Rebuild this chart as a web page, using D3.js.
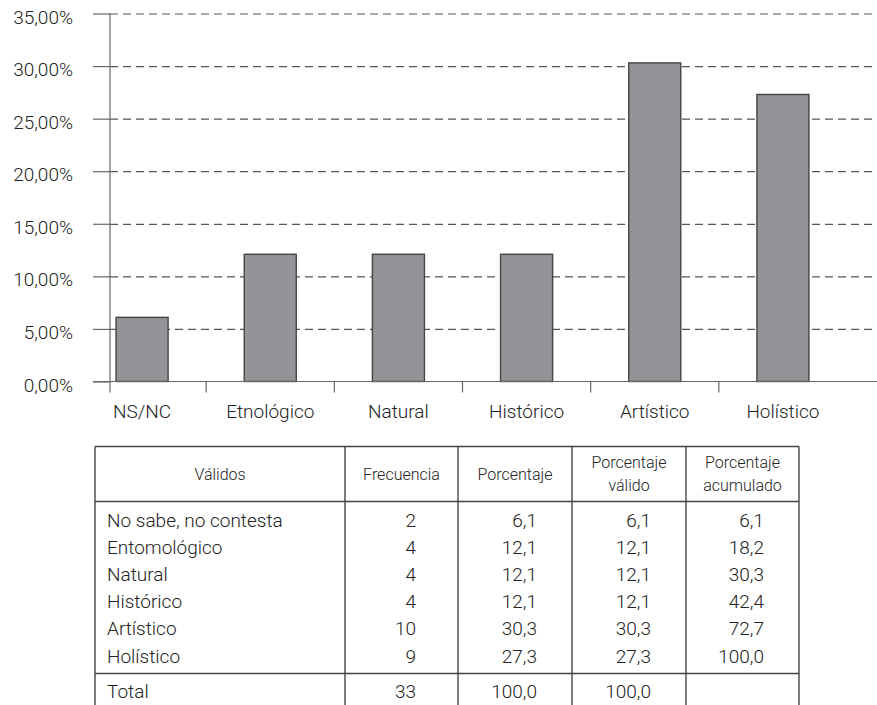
<!DOCTYPE html>
<html>
<head>
<meta charset="utf-8">
<script src="https://cdn.jsdelivr.net/npm/d3@7"></script>
<style>
  html, body { margin: 0; padding: 0; background: #fff; }
  svg { display: block; }
  text { font-family: Roboto, "Liberation Sans", Arial, sans-serif; font-weight: 300; fill: #222; }
</style>
</head>
<body>
<svg id="chart" width="877" height="705"></svg>
<script>
// ---- Data ----
const categories = ["NS/NC", "Etnológico", "Natural", "Histórico", "Artístico", "Holístico"];
const percentages = [6.1, 12.1, 12.1, 12.1, 30.3, 27.3];
const yTicks = [0, 5, 10, 15, 20, 25, 30, 35];

const tableHeaders = [["Válidos"], ["Frecuencia"], ["Porcentaje"], ["Porcentaje", "válido"], ["Porcentaje", "acumulado"]];
const rowLabels = ["No sabe, no contesta", "Entomológico", "Natural", "Histórico", "Artístico", "Holístico"];
const frecuencia = [2, 4, 4, 4, 10, 9];
const porcentaje = [6.1, 12.1, 12.1, 12.1, 30.3, 27.3];
const porcentajeValido = [6.1, 12.1, 12.1, 12.1, 30.3, 27.3];
const porcentajeAcumulado = [6.1, 18.2, 30.3, 42.4, 72.7, 100.0];
const totalLabel = "Total";
const totalFrecuencia = 33;
const totalPorcentaje = 100.0;
const totalPorcentajeValido = 100.0;

// ---- Setup ----
const es = d3.formatLocale({ decimal: ",", thousands: ".", grouping: [3], currency: ["", " €"] });
const fmtPct = v => es.format(".2f")(v) + "%";
const fmt1 = es.format(".1f");

const svg = d3.select("#chart");
const W = 877;
const axisX = 110;
const FS = 19;

const y = d3.scaleLinear().domain([0, 35]).range([381.5, 13.5]);
const x = d3.scaleBand().domain(categories).range([78, 847]).paddingInner(0).paddingOuter(0);

// Gridlines (dashed)
const grid = svg.append("g").attr("transform", `translate(${axisX},0)`)
  .call(d3.axisLeft(y).tickValues(yTicks.filter(d => d > 0)).tickSize(-(W - axisX)).tickFormat(""));
grid.select(".domain").remove();
grid.selectAll(".tick line").attr("stroke", "#555").attr("stroke-width", 1.2).attr("stroke-dasharray", "8,5");

// Bars
svg.append("g").selectAll("rect").data(categories).join("rect")
  .attr("x", d => x(d) + x.bandwidth() * 0.297)
  .attr("width", x.bandwidth() * 0.406)
  .attr("y", (d, i) => y(percentages[i]))
  .attr("height", (d, i) => y(0) - y(percentages[i]))
  .attr("fill", "#939498")
  .attr("stroke", "#444")
  .attr("stroke-width", 1.4);

// Y axis
const yAxis = svg.append("g").attr("transform", `translate(${axisX},0)`)
  .call(d3.axisLeft(y).tickValues(yTicks).tickSize(17).tickPadding(20).tickFormat(fmtPct));
yAxis.select(".domain").remove();
yAxis.selectAll(".tick line").attr("stroke", "#666").attr("stroke-width", 1.2);
yAxis.selectAll(".tick text").attr("font-size", FS).attr("dy", "0.5em")
  .style("font-family", "Roboto, 'Liberation Sans', Arial, sans-serif").style("font-weight", 300).attr("fill", "#222");
svg.append("line").attr("x1", axisX).attr("x2", axisX)
  .attr("y1", y(35)).attr("y2", y(0) + 11)
  .attr("stroke", "#666").attr("stroke-width", 1.2);

// X axis
svg.append("line").attr("x1", axisX - 17).attr("x2", W)
  .attr("y1", y(0)).attr("y2", y(0)).attr("stroke", "#666").attr("stroke-width", 1.2);
svg.append("g").selectAll("line").data(categories.slice(1)).join("line")
  .attr("x1", d => x(d)).attr("x2", d => x(d))
  .attr("y1", y(0)).attr("y2", y(0) + 11)
  .attr("stroke", "#666").attr("stroke-width", 1.2);
svg.append("g").selectAll("text").data(categories).join("text")
  .attr("x", d => x(d) + x.bandwidth() / 2)
  .attr("y", y(0) + 36)
  .attr("text-anchor", "middle")
  .attr("font-size", FS)
  .text(d => d);

// ---- Table ----
const colEdges = [95, 345, 458, 572, 686, 799];
const tTop = 446.5, tHeadBottom = 501.5, tTotalTop = 673.5, tBottom = 705;
const rowY0 = 520, rowStep = 27.2;
const tg = svg.append("g");
const tStroke = "#444";

[tTop, tHeadBottom, tTotalTop].forEach(yy => {
  tg.append("line").attr("x1", colEdges[0]).attr("x2", colEdges[5]).attr("y1", yy).attr("y2", yy)
    .attr("stroke", tStroke).attr("stroke-width", 1.4);
});
tg.selectAll("line.v").data(colEdges).join("line").attr("class", "v")
  .attr("x1", d => d).attr("x2", d => d).attr("y1", tTop).attr("y2", tBottom)
  .attr("stroke", tStroke).attr("stroke-width", 1.4);

// Header
tableHeaders.forEach((lines, i) => {
  const cx = (colEdges[i] + colEdges[i + 1]) / 2;
  const cy = (tTop + tHeadBottom) / 2;
  const t = tg.append("text").attr("x", cx).attr("text-anchor", "middle").attr("font-size", 16);
  if (lines.length === 1) {
    t.attr("y", cy).attr("dy", "0.35em").text(lines[0]);
  } else {
    lines.forEach((l, k) => {
      t.append("tspan").attr("x", cx).attr("y", cy + (k === 0 ? -11.5 : 11.5)).attr("dy", "0.35em").text(l);
    });
  }
});

// Rows
const numRight = [416, 537, 651, 764];
rowLabels.forEach((lab, r) => {
  const ry = rowY0 + r * rowStep;
  tg.append("text").attr("x", 107).attr("y", ry).attr("dy", "0.35em").attr("font-size", FS).text(lab);
  const vals = [String(frecuencia[r]), fmt1(porcentaje[r]), fmt1(porcentajeValido[r]), fmt1(porcentajeAcumulado[r])];
  vals.forEach((v, c) => {
    tg.append("text").attr("x", numRight[c]).attr("y", ry).attr("dy", "0.35em")
      .attr("text-anchor", "end").attr("font-size", FS).text(v);
  });
});

// Total
const ty = 691.5;
tg.append("text").attr("x", 107).attr("y", ty).attr("dy", "0.35em").attr("font-size", FS).text(totalLabel);
[String(totalFrecuencia), fmt1(totalPorcentaje), fmt1(totalPorcentajeValido)].forEach((v, c) => {
  tg.append("text").attr("x", numRight[c]).attr("y", ty).attr("dy", "0.35em")
    .attr("text-anchor", "end").attr("font-size", FS).text(v);
});
</script>
</body>
</html>
